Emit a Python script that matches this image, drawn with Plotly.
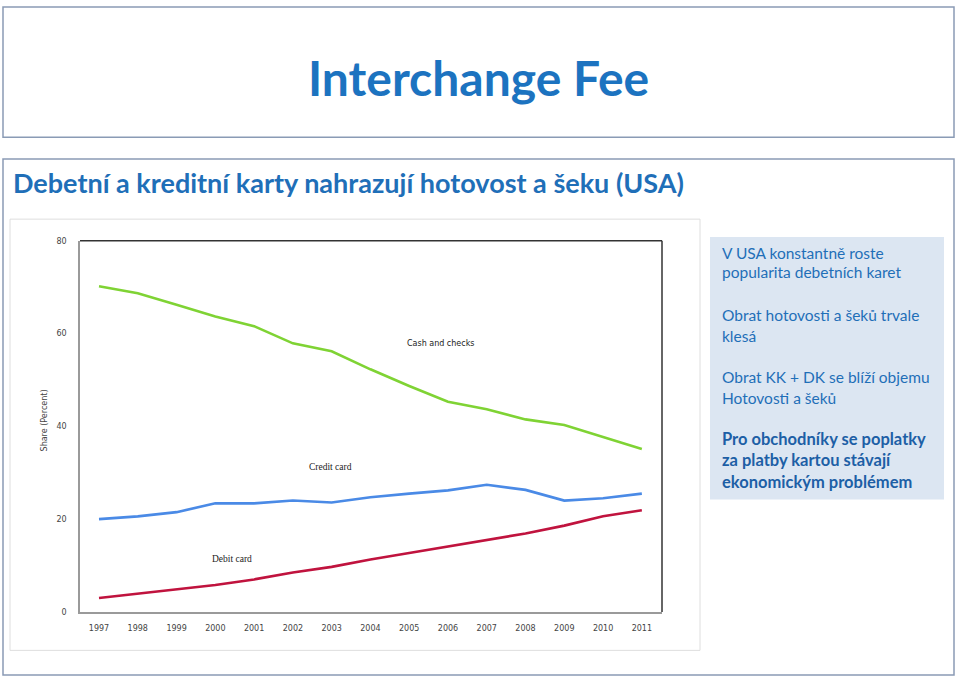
import plotly.graph_objects as go

W, H = 959, 683

years = list(range(1997, 2012))
cash_checks = [70.2, 68.7, 66.2, 63.7, 61.6, 57.9, 56.2, 52.3, 48.7, 45.3, 43.7, 41.5, 40.3, 37.7, 35.1]
credit_card = [20.0, 20.6, 21.5, 23.4, 23.4, 24.0, 23.6, 24.7, 25.5, 26.2, 27.4, 26.3, 24.0, 24.5, 25.5]
debit_card = [3.0, 3.9, 4.9, 5.8, 7.0, 8.5, 9.7, 11.3, 12.7, 14.1, 15.5, 16.9, 18.6, 20.6, 21.9]
y_ticks = [0, 20, 40, 60, 80]

series_names = ["Cash and checks", "Credit card", "Debit card"]
series_colors = ["#7fd334", "#4a8ae6", "#c0133e"]

def px(x):
    return x / W

def py(y):
    return 1 - y / H

fig = go.Figure()
for name, vals, col in zip(series_names, [cash_checks, credit_card, debit_card], series_colors):
    fig.add_trace(go.Scatter(x=years, y=vals, mode="lines", name=name,
                             line=dict(color=col, width=2.6), showlegend=False,
                             hoverinfo="x+y+name"))

blue = "#1f6fb8"
shapes = [
    dict(type="rect", xref="paper", yref="paper", x0=px(3), x1=px(954), y0=py(135), y1=py(3),
         line=dict(color="#8a9bb5", width=1.5), fillcolor="white", layer="below"),
    dict(type="rect", xref="paper", yref="paper", x0=px(3), x1=px(954), y0=py(680), y1=py(157),
         line=dict(color="#8a9bb5", width=1.5), fillcolor="white", layer="below"),
    dict(type="rect", xref="paper", yref="paper", x0=px(10), x1=px(700), y0=py(655), y1=py(218),
         line=dict(color="#dedede", width=1), fillcolor="white", layer="below"),
    dict(type="rect", xref="paper", yref="paper", x0=px(710), x1=px(944), y0=py(502), y1=py(236),
         line=dict(width=0), fillcolor="#dce6f2", layer="below"),
    dict(type="line", xref="paper", yref="paper", x0=px(80), x1=px(662), y0=py(240), y1=py(240),
         line=dict(color="#333333", width=1.5)),
    dict(type="line", xref="paper", yref="paper", x0=px(662), x1=px(662), y0=py(240), y1=py(616),
         line=dict(color="#333333", width=1.5)),
]

annotations = [
    dict(text="<b>Interchange Fee</b>", x=px(478), y=py(74), xref="paper", yref="paper",
         showarrow=False, xanchor="center", yanchor="middle",
         font=dict(family="Lato", size=48, color="#1c73c0")),
    dict(text="<b>Debetní a kreditní karty nahrazují hotovost a šeku (USA)</b>", x=px(11), y=py(181),
         xref="paper", yref="paper", showarrow=False, xanchor="left", yanchor="middle",
         font=dict(family="Lato", size=27, color=blue)),
    dict(text="Share (Percent)", x=px(44), y=py(422), xref="paper", yref="paper", textangle=-90,
         showarrow=False, xanchor="center", yanchor="middle",
         font=dict(family="DejaVu Sans", size=8, color="#444444")),
    dict(text="Cash and checks", x=2005.82, y=57.9, xref="x", yref="y", showarrow=False,
         xanchor="center", yanchor="middle",
         font=dict(family="DejaVu Sans", size=8, color="#222222")),
    dict(text="Credit card", x=2002.98, y=31.3, xref="x", yref="y", showarrow=False,
         xanchor="center", yanchor="middle",
         font=dict(family="Liberation Serif", size=9.5, color="#222222")),
    dict(text="Debit card", x=2000.43, y=11.5, xref="x", yref="y", showarrow=False,
         xanchor="center", yanchor="middle",
         font=dict(family="Liberation Serif", size=9.5, color="#222222")),
]

side_lines = [
    ("V USA konstantně roste", 252, False),
    ("popularita debetních karet", 272, False),
    ("Obrat hotovosti a šeků trvale", 315, False),
    ("klesá", 336, False),
    ("Obrat KK + DK se blíží objemu", 378, False),
    ("Hotovosti a šeků", 399, False),
    ("Pro obchodníky se poplatky", 441, True),
    ("za platby kartou stávají", 462, True),
    ("ekonomickým problémem", 484, True),
]
for txt, yy, bold in side_lines:
    annotations.append(dict(
        text=f"<b>{txt}</b>" if bold else txt, x=px(720), y=py(yy), xref="paper", yref="paper",
        showarrow=False, xanchor="left", yanchor="middle",
        font=dict(family="Lato", size=16.5 if bold else 15.5, color="#1d5fa6" if bold else blue)))

fig.update_layout(
    width=W, height=H, autosize=False,
    margin=dict(l=0, r=0, t=0, b=0, pad=0),
    paper_bgcolor="white", plot_bgcolor="white",
    shapes=shapes, annotations=annotations,
    xaxis=dict(domain=[px(80), px(662)], range=[1996.51, 2011.52],
               tickmode="array", tickvals=years, ticktext=[str(y) for y in years],
               showgrid=False, zeroline=False, showline=True, linecolor="#9a9a9a", linewidth=1.5,
               ticks="", ticklabelstandoff=8,
               tickfont=dict(family="DejaVu Sans", size=8, color="#444444")),
    yaxis=dict(domain=[py(616), py(240)], range=[0, 80],
               tickmode="array", tickvals=y_ticks,
               showgrid=False, zeroline=False, showline=True, linecolor="#9a9a9a", linewidth=1.5,
               ticks="", ticklabelstandoff=10,
               tickfont=dict(family="DejaVu Sans", size=8, color="#444444")),
)

fig.write_html("out.html", config={"displayModeBar": False},
               post_script="document.body.style.margin='0';")
